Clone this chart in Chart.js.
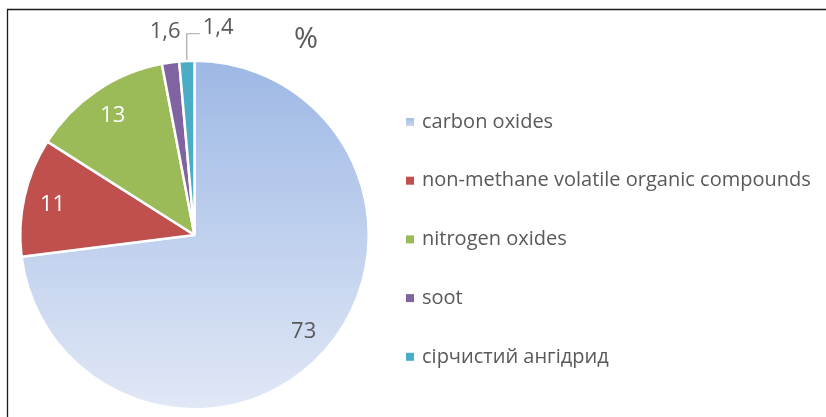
<!DOCTYPE html>
<html>
<head>
<meta charset="utf-8">
<script src="https://cdn.jsdelivr.net/npm/chart.js@4/dist/chart.umd.min.js"></script>
<style>
  html, body { margin: 0; padding: 0; background: #ffffff; }
  #wrap { position: relative; width: 826px; height: 417px; }
</style>
</head>
<body>
<div id="wrap"><canvas id="c" width="826" height="417"></canvas></div>
<script>
// ---- data ----
const categories = ["carbon oxides", "non-methane volatile organic compounds", "nitrogen oxides", "soot", "сірчистий ангідрид"];
const values = [73, 11, 13, 1.6, 1.4];
const valueLabels = ["73", "11", "13", "1,6", "1,4"];
const titleText = "%";
const sliceColors = ["#a9c0e8", "#c0504d", "#9bbb59", "#8064a2", "#4bacc6"];

const FONT = "'Open Sans', 'DejaVu Sans', sans-serif";
const GRAY = "#595959";

function carbonGradient(ctx) {
  const chart = ctx.chart;
  const ca = chart.chartArea;
  if (!ca) return sliceColors[0];
  const g = chart.ctx.createLinearGradient(0, ca.top, 0, ca.bottom);
  g.addColorStop(0, "#9db8e5");
  g.addColorStop(1, "#e1e8f6");
  return g;
}

const framePlugin = {
  id: "frame",
  beforeDraw(chart) {
    const c = chart.ctx;
    c.save();
    c.fillStyle = "#ffffff";
    c.fillRect(0, 0, chart.width, chart.height);
    c.strokeStyle = "#1a1a1a";
    c.lineWidth = 1.3;
    c.beginPath();
    c.moveTo(826, 9.5);
    c.lineTo(7.5, 9.5);
    c.lineTo(7.5, 417);
    c.stroke();
    c.restore();
  }
};

const labelsPlugin = {
  id: "sliceLabels",
  afterDatasetsDraw(chart) {
    const c = chart.ctx;
    const meta = chart.getDatasetMeta(0);
    c.save();
    c.font = "22px " + FONT;
    c.textAlign = "center";
    c.textBaseline = "middle";
    meta.data.forEach((arc, i) => {
      const mid = (arc.startAngle + arc.endAngle) / 2;
      const r = arc.outerRadius;
      if (i <= 2) {
        const d = r * 0.835;
        c.fillStyle = i === 0 ? GRAY : "#ffffff";
        c.fillText(valueLabels[i], arc.x + Math.cos(mid) * d, arc.y + Math.sin(mid) * d + 1);
      } else if (i === 3) {
        const d = r + 31;
        c.fillStyle = GRAY;
        c.fillText(valueLabels[i], arc.x + Math.cos(mid) * d - 1, arc.y + Math.sin(mid) * d);
      } else {
        // leader line label
        const px = arc.x + Math.cos(mid) * (r + 1);
        const py = arc.y + Math.sin(mid) * (r + 1);
        const ly = arc.y - r - 27;
        c.strokeStyle = "#a6a6a6";
        c.lineWidth = 1.2;
        c.beginPath();
        c.moveTo(px, py);
        c.lineTo(px, ly);
        c.lineTo(px + 13, ly);
        c.stroke();
        c.fillStyle = GRAY;
        c.textAlign = "left";
        c.fillText(valueLabels[i], px + 16, ly - 6);
      }
    });
    // title
    c.fillStyle = GRAY;
    c.textAlign = "center";
    c.font = "29px " + FONT;
    c.fillText(titleText, 306, 40);
    c.restore();
  }
};

const legendPlugin = {
  id: "sideLegend",
  afterDraw(chart) {
    const c = chart.ctx;
    c.save();
    c.font = "20px " + FONT;
    c.textBaseline = "middle";
    c.textAlign = "left";
    categories.forEach((name, i) => {
      const y = 122 + i * 58.7;
      if (i === 0) {
        const g = c.createLinearGradient(0, y - 4, 0, y + 4);
        g.addColorStop(0, "#a3bce6");
        g.addColorStop(1, "#c9d7ef");
        c.fillStyle = g;
      } else {
        c.fillStyle = sliceColors[i];
      }
      c.fillRect(406, y - 4, 8, 8);
      c.fillStyle = GRAY;
      c.fillText(name, 422, y);
    });
    c.restore();
  }
};

new Chart(document.getElementById("c"), {
  type: "pie",
  data: {
    labels: categories,
    datasets: [{
      data: values,
      backgroundColor: (ctx) => ctx.dataIndex === 0 ? carbonGradient(ctx) : sliceColors[ctx.dataIndex],
      borderColor: "#ffffff",
      borderWidth: 2.5
    }]
  },
  options: {
    responsive: false,
    animation: false,
    layout: { padding: { left: 19, top: 59.5, right: 456, bottom: 6.5 } },
    plugins: {
      legend: { display: false },
      tooltip: { enabled: false },
      title: { display: false }
    }
  },
  plugins: [framePlugin, labelsPlugin, legendPlugin]
});
</script>
</body>
</html>
